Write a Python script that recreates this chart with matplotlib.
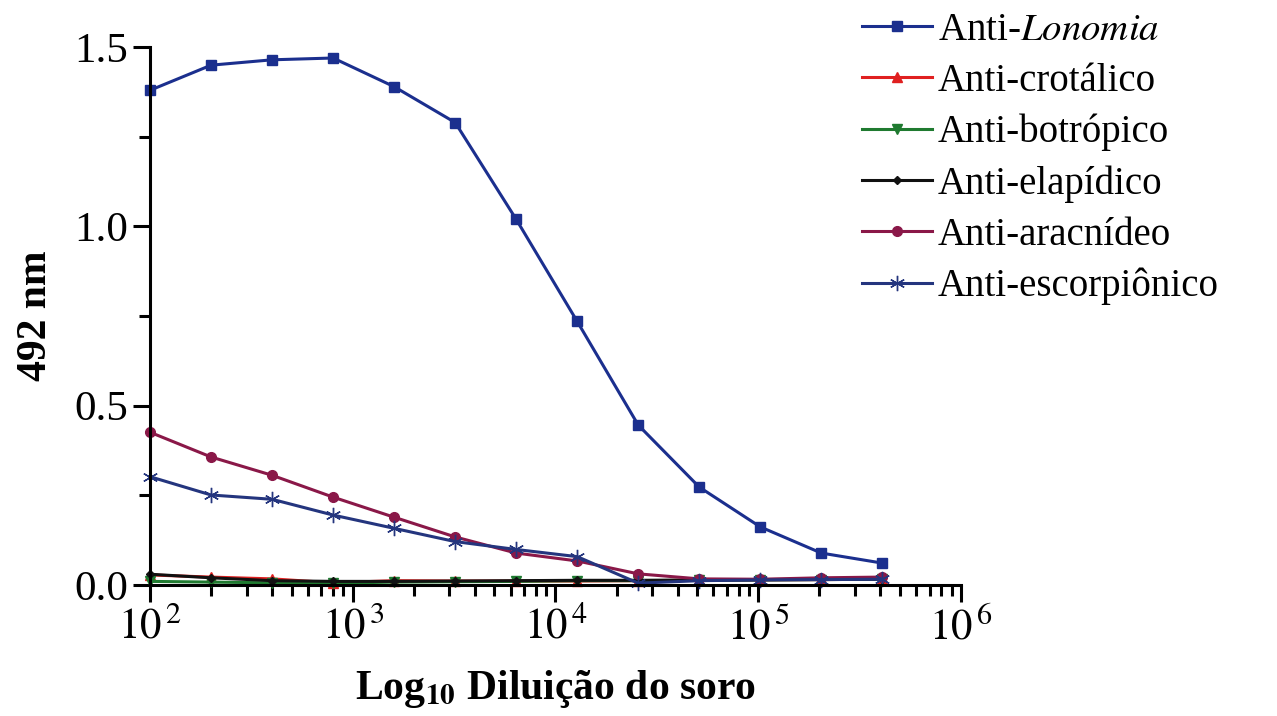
import numpy as np
import matplotlib
matplotlib.use("Agg")
import matplotlib.pyplot as plt
from matplotlib.ticker import LogLocator, MultipleLocator, NullFormatter, FormatStrFormatter

plt.rcParams['font.family'] = ['Liberation Serif', 'DejaVu Serif']
plt.rcParams['mathtext.fontset'] = 'stix'

# diluições do soro
diluicao = [100, 200, 400, 800, 1600, 3200, 6400, 12800, 25600, 51200, 102400, 204800, 409600]

# absorbância a 492 nm
lonomia = [1.38, 1.45, 1.465, 1.47, 1.39, 1.29, 1.02, 0.735, 0.446, 0.273, 0.162, 0.089, 0.061]
crotalico = [0.028, 0.022, 0.017, 0.006, 0.012, 0.011, 0.011, 0.011, 0.012, 0.013, 0.014, 0.015, 0.016]
botropico = [0.010, 0.008, 0.006, 0.005, 0.008, 0.009, 0.010, 0.012, 0.012, 0.013, 0.014, 0.015, 0.016]
elapidico = [0.030, 0.020, 0.012, 0.010, 0.010, 0.011, 0.012, 0.013, 0.013, 0.014, 0.015, 0.016, 0.017]
aracnideo = [0.426, 0.357, 0.306, 0.245, 0.189, 0.134, 0.089, 0.067, 0.031, 0.017, 0.016, 0.020, 0.022]
escorpionico = [0.302, 0.251, 0.239, 0.195, 0.158, 0.121, 0.099, 0.079, 0.005, 0.012, 0.014, 0.015, 0.016]

series = [
    ("Anti-$\\mathit{Lonomia}$", lonomia, '#1b2f8e', 's', 7),
    ("Anti-crotálico", crotalico, '#e02020', '^', 7),
    ("Anti-botrópico", botropico, '#1f7a30', 'v', 7),
    ("Anti-elapídico", elapidico, '#111111', 'D', 4.5),
    ("Anti-aracnídeo", aracnideo, '#8a1848', 'o', 7),
    ("Anti-escorpiônico", escorpionico, '#24357e', (6, 2, 0), 11),
]

fig = plt.figure(figsize=(12.77, 7.16), dpi=100)
ax = fig.add_axes([0.1175, 0.183, 0.635, 0.751])

for nome, vals, cor, mk, ms in series:
    ax.plot(diluicao, vals, color=cor, marker=mk, markersize=ms, linewidth=2.2,
            markeredgewidth=1.0, label=nome, clip_on=False)

ax.set_xscale('log')
ax.set_xlim(1e2, 1e6)
ax.set_ylim(0, 1.5)
ax.yaxis.set_major_locator(MultipleLocator(0.5))
ax.yaxis.set_minor_locator(MultipleLocator(0.25))
ax.yaxis.set_major_formatter(FormatStrFormatter('%.1f'))
ax.xaxis.set_minor_locator(LogLocator(base=10, subs=np.arange(2, 10)))
ax.xaxis.set_minor_formatter(NullFormatter())
ax.set_xticks([1e2, 1e3, 1e4, 1e5, 1e6])
ax.set_xticklabels(['$10^{\\,2}$', '$10^{\\,3}$', '$10^{\\,4}$', '$10^{\\,5}$', '$10^{\\,6}$'])

for s in ['top', 'right']:
    ax.spines[s].set_visible(False)
for s in ['left', 'bottom']:
    ax.spines[s].set_linewidth(2.2)

ax.tick_params(axis='both', which='major', direction='out', length=12, width=2.2,
               labelsize=31, pad=4)
ax.tick_params(axis='both', which='minor', direction='out', length=8, width=2.2)

ax.set_ylabel("492 nm", fontsize=30, fontweight='bold', labelpad=14)
ax.set_xlabel("Log$_{\\mathbf{10}}$ Diluição do soro", fontsize=30, fontweight='bold', labelpad=14)

ax.legend(loc='upper left', bbox_to_anchor=(0.663, 1.005), bbox_transform=fig.transFigure,
          frameon=False, fontsize=28, handlelength=1.8, handletextpad=0.15,
          labelspacing=0.36, borderaxespad=0)

fig.savefig("out.png", dpi=100)
